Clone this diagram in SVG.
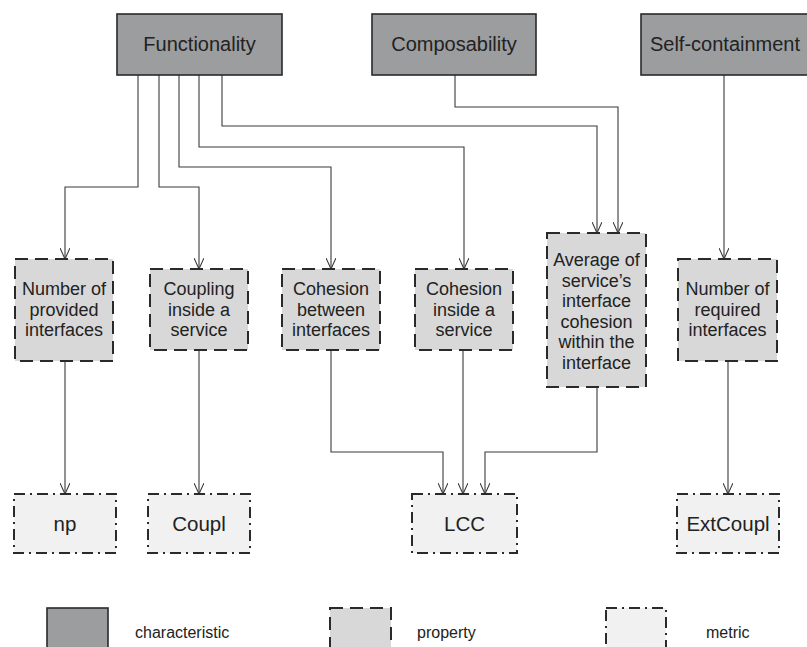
<svg xmlns="http://www.w3.org/2000/svg" width="807" height="647" viewBox="0 0 807 647">
  <style>
    .char { fill: #9b9d9f; stroke: #2a2a2a; stroke-width: 1.6; }
    .prop { fill: #d8d8d8; stroke: #2a2a2a; stroke-width: 2; stroke-dasharray: 13 7; }
    .metr { fill: #f1f1f1; stroke: #2a2a2a; stroke-width: 2; stroke-dasharray: 11 5 2 5; }
    text { font-family: "Liberation Sans", Arial, sans-serif; fill: #222; text-anchor: middle; }
    .tc { font-size: 20px; }
    .tp { font-size: 18px; }
    .tm { font-size: 20.5px; }
    .tl { font-size: 16px; text-anchor: start; }
    .wire { fill: none; stroke: #3a3a3a; stroke-width: 1.1; }
  </style>
  <defs>
    <marker id="arrow" viewBox="0 0 12 10" refX="11" refY="5" markerWidth="12" markerHeight="10" markerUnits="userSpaceOnUse" orient="auto">
      <path d="M0,0 L11,5 L0,10" fill="none" stroke="#3a3a3a" stroke-width="1.1"/>
    </marker>
  </defs>
  <rect width="807" height="647" fill="#ffffff"/>

  <!-- connectors -->
  <g id="connectors" class="wire" marker-end="url(#arrow)">
    <path d="M138,75 V187 H65 V259"/>
    <path d="M159,75 V187 H199 V269"/>
    <path d="M179,75 V167 H331 V269"/>
    <path d="M199,75 V147 H464 V269"/>
    <path d="M222,75 V126 H597 V233"/>
    <path d="M455,75 V107 H618 V233"/>
    <path d="M724,75 V259"/>
    <path d="M65,361 V494"/>
    <path d="M199,350 V494"/>
    <path d="M331,350 V452 H443 V494"/>
    <path d="M463,350 V494"/>
    <path d="M597,387 V452 H485 V494"/>
    <path d="M728,361 V494"/>
  </g>

  <!-- characteristics -->
  <g id="functionality">
    <rect class="char" x="117" y="14" width="165" height="61"/>
    <text class="tc" x="199.5" y="51">Functionality</text>
  </g>
  <g id="composability">
    <rect class="char" x="372" y="14" width="164" height="61"/>
    <text class="tc" x="454" y="51">Composability</text>
  </g>
  <g id="self-containment">
    <rect class="char" x="641" y="14" width="175" height="61"/>
    <text class="tc" x="725" y="51">Self-containment</text>
  </g>

  <!-- properties -->
  <g id="number-provided">
    <rect class="prop" x="15" y="259" width="98" height="102"/>
    <text class="tp" x="64" y="295">Number of</text>
    <text class="tp" x="64" y="316">provided</text>
    <text class="tp" x="64" y="336">interfaces</text>
  </g>
  <g id="coupling-inside">
    <rect class="prop" x="150" y="269" width="98" height="81"/>
    <text class="tp" x="199" y="295">Coupling</text>
    <text class="tp" x="199" y="316">inside a</text>
    <text class="tp" x="199" y="336">service</text>
  </g>
  <g id="cohesion-between">
    <rect class="prop" x="282" y="269" width="98" height="81"/>
    <text class="tp" x="331" y="295">Cohesion</text>
    <text class="tp" x="331" y="316">between</text>
    <text class="tp" x="331" y="336">interfaces</text>
  </g>
  <g id="cohesion-inside">
    <rect class="prop" x="415" y="269" width="98" height="81"/>
    <text class="tp" x="464" y="295">Cohesion</text>
    <text class="tp" x="464" y="316">inside a</text>
    <text class="tp" x="464" y="336">service</text>
  </g>
  <g id="average-cohesion">
    <rect class="prop" x="547" y="233" width="99" height="154"/>
    <text class="tp" x="596.5" y="266">Average of</text>
    <text class="tp" x="596.5" y="287">service’s</text>
    <text class="tp" x="596.5" y="307">interface</text>
    <text class="tp" x="596.5" y="328">cohesion</text>
    <text class="tp" x="596.5" y="348">within the</text>
    <text class="tp" x="596.5" y="369">interface</text>
  </g>
  <g id="number-required">
    <rect class="prop" x="678" y="259" width="99" height="102"/>
    <text class="tp" x="727.5" y="295">Number of</text>
    <text class="tp" x="727.5" y="316">required</text>
    <text class="tp" x="727.5" y="336">interfaces</text>
  </g>

  <!-- metrics -->
  <g id="np">
    <rect class="metr" x="14" y="494" width="102" height="59"/>
    <text class="tm" x="65" y="531">np</text>
  </g>
  <g id="coupl">
    <rect class="metr" x="148" y="494" width="102" height="59"/>
    <text class="tm" x="199" y="531">Coupl</text>
  </g>
  <g id="lcc">
    <rect class="metr" x="412" y="494" width="105" height="59"/>
    <text class="tm" x="464.5" y="531">LCC</text>
  </g>
  <g id="extcoupl">
    <rect class="metr" x="677" y="494" width="102" height="59"/>
    <text class="tm" x="728" y="531">ExtCoupl</text>
  </g>

  <!-- legend -->
  <g id="legend">
    <rect class="char" x="47" y="608" width="61" height="50"/>
    <text class="tl" x="135" y="638">characteristic</text>
    <rect class="prop" x="330" y="608" width="61" height="50"/>
    <text class="tl" x="417" y="638">property</text>
    <rect class="metr" x="606" y="608" width="60" height="50"/>
    <text class="tl" x="706" y="638">metric</text>
  </g>
</svg>
